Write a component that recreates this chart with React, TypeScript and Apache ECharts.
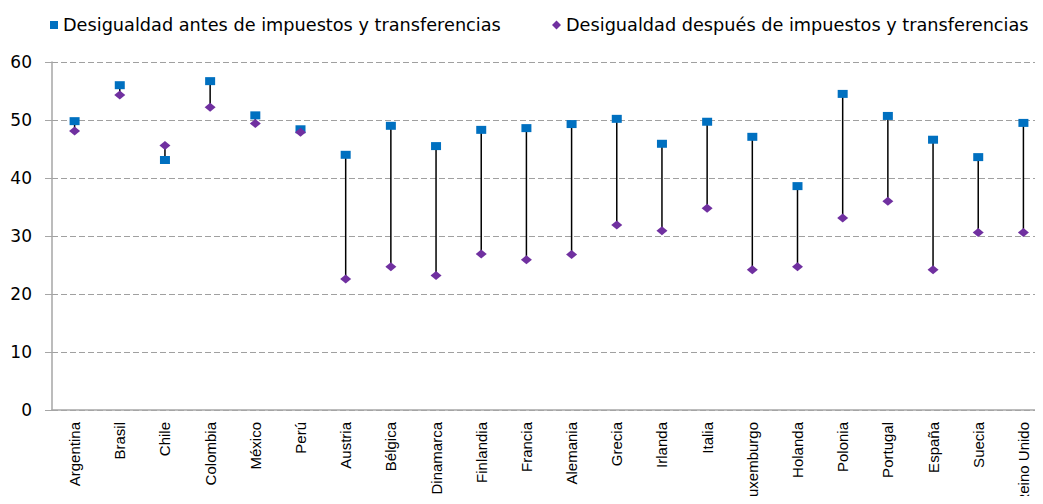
import React, { useEffect, useRef } from "react";
import * as echarts from "echarts";

const categories = [
  "Argentina", "Brasil", "Chile", "Colombia", "México", "Perú", "Austria", "Bélgica",
  "Dinamarca", "Finlandia", "Francia", "Alemania", "Grecia", "Irlanda", "Italia",
  "Luxemburgo", "Holanda", "Polonia", "Portugal", "España", "Suecia", "Reino Unido",
];
const antes = [
  49.8, 56.0, 43.1, 56.7, 50.8, 48.4, 44.0, 49.0, 45.5, 48.3, 48.6, 49.3, 50.2, 45.9,
  49.7, 47.1, 38.6, 54.5, 50.7, 46.6, 43.6, 49.5,
];
const despues = [
  48.1, 54.3, 45.6, 52.2, 49.4, 47.9, 22.6, 24.7, 23.2, 26.9, 25.9, 26.8, 31.9, 30.9,
  34.8, 24.2, 24.7, 33.1, 36.0, 24.2, 30.6, 30.6,
];
const yTicks = [0, 10, 20, 30, 40, 50, 60];
const nameAntes = "Desigualdad antes de impuestos y transferencias";
const nameDespues = "Desigualdad después de impuestos y transferencias";

export default function App() {
  const ref = useRef<HTMLDivElement>(null);
  useEffect(() => {
    if (!ref.current) return;
    const chart = echarts.init(ref.current, undefined, { renderer: "svg" });
    const lineData = categories.map((_, i) => [i, antes[i], despues[i]]);
    const legendText = { fontFamily: "DejaVu Sans", fontSize: 17.7, color: "#000" };
    chart.setOption({
      animation: false,
      textStyle: { fontFamily: "DejaVu Sans" },
      legend: [
        {
          left: 45,
          top: 11,
          itemWidth: 8,
          itemHeight: 8,
          itemGap: 6,
          textStyle: legendText,
          data: [{ name: nameAntes, icon: "rect" }],
        },
        {
          left: 547,
          top: 11,
          itemWidth: 9,
          itemHeight: 9,
          itemGap: 6,
          textStyle: legendText,
          data: [{ name: nameDespues, icon: "diamond" }],
        },
      ],
      grid: {
        left: 52,
        top: 62,
        width: 994,
        height: 348,
        containLabel: false,
        outerBoundsMode: "none",
      },
      xAxis: {
        type: "category",
        data: categories,
        axisLine: { lineStyle: { color: "#a6a6a6", width: 1.5 } },
        axisTick: { show: false },
        axisLabel: {
          rotate: 90,
          interval: 0,
          margin: 12,
          fontFamily: "Liberation Sans Narrow, Liberation Sans",
          fontSize: 15,
          color: "#000",
        },
      },
      yAxis: {
        type: "value",
        min: yTicks[0],
        max: yTicks[yTicks.length - 1],
        interval: 10,
        axisLine: { show: true, lineStyle: { color: "#a6a6a6", width: 1.5 } },
        axisTick: { show: true, length: 7, lineStyle: { color: "#a6a6a6" } },
        axisLabel: { fontFamily: "DejaVu Sans", fontSize: 17, color: "#000", margin: 20 },
        splitLine: { lineStyle: { color: "#a0a0a0", type: [6, 3], width: 1.2 } },
      },
      series: [
        {
          type: "custom",
          name: "lines",
          silent: true,
          z: 1,
          data: lineData,
          encode: { x: 0, y: [1, 2] },
          renderItem: (params: any, api: any) => {
            const p1 = api.coord([api.value(0), api.value(1)]);
            const p2 = api.coord([api.value(0), api.value(2)]);
            return {
              type: "line",
              shape: { x1: p1[0], y1: p1[1], x2: p2[0], y2: p2[1] },
              style: { stroke: "#000", lineWidth: 1.5 },
            };
          },
        },
        {
          type: "scatter",
          name: nameAntes,
          data: antes,
          symbol: "rect",
          symbolSize: [10, 8],
          z: 3,
          itemStyle: { color: "#0070C0", opacity: 1 },
        },
        {
          type: "scatter",
          name: nameDespues,
          data: despues,
          symbol: "diamond",
          symbolSize: [11, 9],
          z: 3,
          itemStyle: { color: "#7030A0", opacity: 1 },
        },
      ],
    });
    return () => chart.dispose();
  }, []);
  return <div ref={ref} style={{ width: 1043, height: 504, margin: -8 }} />;
}
